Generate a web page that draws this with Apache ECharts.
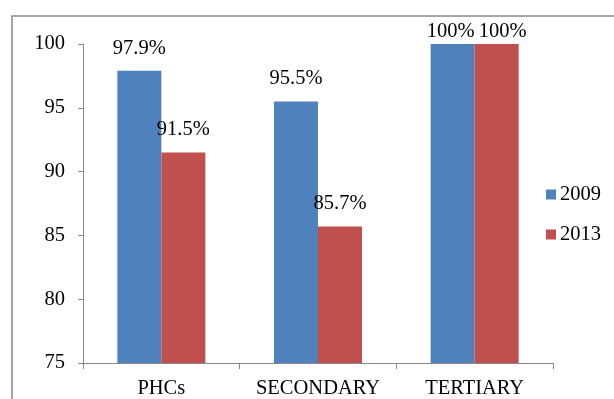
<!DOCTYPE html>
<html>
<head>
<meta charset="utf-8">
<script src="https://cdn.jsdelivr.net/npm/echarts@6/dist/echarts.min.js"></script>
<style>
html, body { margin: 0; padding: 0; background: #fff; }
#chart { width: 614px; height: 399px; }
</style>
</head>
<body>
<div id="chart"></div>
<script>
// Share of facilities, by level of care
const categories = ['PHCs', 'SECONDARY', 'TERTIARY'];
const years = ['2009', '2013'];
const values2009 = [97.9, 95.5, 100];
const values2013 = [91.5, 85.7, 100];
const yTicks = [75, 80, 85, 90, 95, 100];

const FONT = '"Liberation Serif", "Times New Roman", serif';
const textStyle = { fontFamily: FONT, fontSize: 20.5, color: '#000' };

// Labels of full-height bars sit just above the bar, nudged apart
function labelled(values, nudge) {
  return values.map(v => ({
    value: v,
    label: v >= 100 ? { distance: 2, offset: [nudge, 0] } : { distance: 12 }
  }));
}

const chart = echarts.init(document.getElementById('chart'), null, { renderer: 'canvas' });
chart.setOption({
  animation: false,
  backgroundColor: '#fff',
  graphic: [{
    type: 'rect',
    shape: { x: 12, y: 16, width: 700, height: 500 },
    style: { fill: 'none', stroke: '#888', lineWidth: 1.5 },
    silent: true
  }],
  grid: { left: 83, right: 61, top: 44, bottom: 35, containLabel: false },
  legend: {
    orient: 'vertical',
    left: 541,
    top: 179,
    itemWidth: 10,
    itemHeight: 10,
    itemGap: 19,
    icon: 'rect',
    textStyle: Object.assign({}, textStyle, { padding: [0, 0, 0, -1] }),
    data: years
  },
  xAxis: {
    type: 'category',
    data: categories,
    axisLine: { lineStyle: { color: '#888', width: 1 } },
    axisTick: { show: true, length: 6, lineStyle: { color: '#888' } },
    axisLabel: Object.assign({}, textStyle, { margin: 15, interval: 0, hideOverlap: false })
  },
  yAxis: {
    type: 'value',
    min: yTicks[0],
    max: yTicks[yTicks.length - 1],
    interval: 5,
    axisLine: { show: true, lineStyle: { color: '#888', width: 1 } },
    axisTick: { show: true, length: 5, lineStyle: { color: '#888' } },
    splitLine: { show: false },
    axisLabel: Object.assign({}, textStyle, { margin: 18 })
  },
  series: [
    {
      name: years[0],
      type: 'bar',
      data: labelled(values2009, -2),
      barWidth: 44,
      barGap: '0%',
      itemStyle: { color: '#4F81BD' },
      label: Object.assign({ show: true, position: 'top', formatter: '{c}%' }, textStyle)
    },
    {
      name: years[1],
      type: 'bar',
      data: labelled(values2013, 6),
      barWidth: 44,
      barGap: '0%',
      itemStyle: { color: '#C0504D' },
      label: Object.assign({ show: true, position: 'top', formatter: '{c}%' }, textStyle)
    }
  ]
});
</script>
</body>
</html>
